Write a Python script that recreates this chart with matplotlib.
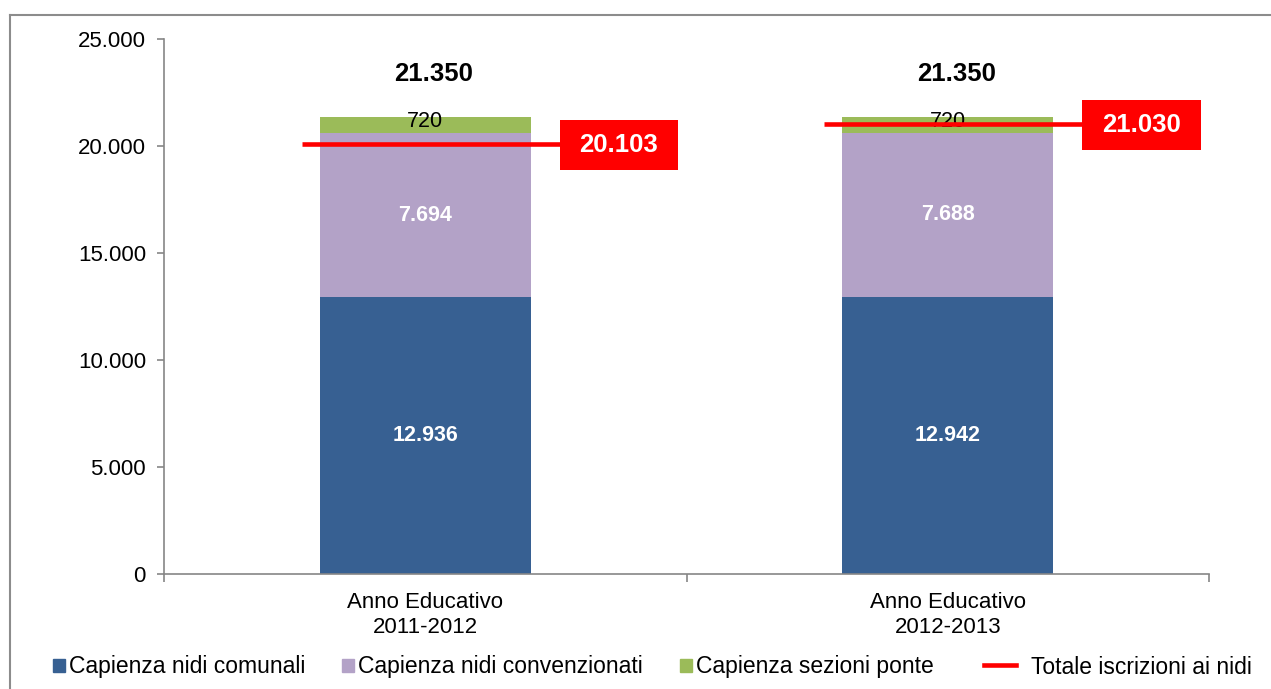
import matplotlib
matplotlib.use("Agg")
import matplotlib.pyplot as plt
import matplotlib.patches as mpatches
from matplotlib.lines import Line2D

plt.rcParams['font.family'] = ['Liberation Sans', 'DejaVu Sans']

categories = ["Anno Educativo\n2011-2012", "Anno Educativo\n2012-2013"]
comunali = [12936, 12942]
convenzionati = [7694, 7688]
ponte = [720, 720]
totali_capienza = [21350, 21350]
iscrizioni = [20103, 21030]
series_names = ["Capienza nidi comunali", "Capienza nidi convenzionati",
                "Capienza sezioni ponte", "Totale iscrizioni ai nidi"]
yticks = [0, 5000, 10000, 15000, 20000, 25000]

C_BLUE = "#376092"
C_PURPLE = "#B3A2C7"
C_GREEN = "#9BBB59"
C_RED = "#FF0000"
C_AXIS = "#868686"


def fmt(v):
    return f"{v:,}".replace(",", ".")


W, H = 1271, 689
fig = plt.figure(figsize=(W / 100, H / 100), dpi=100)
ax = fig.add_axes([164 / W, 1 - 574 / H, (1209 - 164) / W, (574 - 39.3) / H])

x = list(range(len(categories)))
bw = 0.403
ax.bar(x, comunali, bw, color=C_BLUE, zorder=2)
ax.bar(x, convenzionati, bw, bottom=comunali, color=C_PURPLE, zorder=2)
bottom3 = [a + b for a, b in zip(comunali, convenzionati)]
ax.bar(x, ponte, bw, bottom=bottom3, color=C_GREEN, zorder=2)

for i in x:
    # segment labels
    ax.text(i, comunali[i] / 2, fmt(comunali[i]), ha='center', va='center',
            color='white', fontweight='bold', fontsize=15.5, zorder=5)
    ax.text(i, comunali[i] + convenzionati[i] / 2, fmt(convenzionati[i]),
            ha='center', va='center', color='white', fontweight='bold',
            fontsize=15.5, zorder=5)
    ax.annotate(fmt(ponte[i]), xy=(i, bottom3[i] + ponte[i] / 2),
                xytext=(0, 2.5), textcoords='offset points',
                ha='center', va='center', color='black', fontsize=15.5, zorder=3)
    # totals
    ax.annotate(fmt(totali_capienza[i]), xy=(i, totali_capienza[i]),
                xytext=(6, 31), textcoords='offset points',
                ha='center', va='center', color='black', fontweight='bold',
                fontsize=18.5, zorder=5)
    # red line
    ax.plot([i - 0.236, i + 0.26], [iscrizioni[i], iscrizioni[i]],
            color=C_RED, lw=3.3, solid_capstyle='butt', zorder=4)
    # red box label
    bh = 50 / 21.39 * 1000
    ax.add_patch(mpatches.Rectangle((i + 0.257, iscrizioni[i] - bh / 2 - 60),
                                    0.227, bh, facecolor=C_RED,
                                    edgecolor='none', zorder=5))
    ax.text(i + 0.3705, iscrizioni[i] - 60, fmt(iscrizioni[i]), ha='center',
            va='center', color='white', fontweight='bold', fontsize=18.5,
            zorder=6)

ax.set_xlim(-0.5, len(categories) - 0.5)
ax.set_ylim(0, 25000)
ax.set_yticks(yticks)
ax.set_yticklabels([fmt(v) for v in yticks], fontsize=16)
ax.set_xticks([-0.5, 0.5, 1.5])
ax.set_xticklabels([])
ax.set_xticks(x, minor=True)
ax.set_xticklabels(categories, minor=True, fontsize=16, linespacing=1.25)
ax.tick_params(axis='x', which='minor', length=0, pad=13)
ax.tick_params(axis='x', which='major', length=6, color=C_AXIS, width=1.2)
ax.tick_params(axis='y', length=5, color=C_AXIS, width=1.2, pad=8)
for s in ['top', 'right']:
    ax.spines[s].set_visible(False)
for s in ['left', 'bottom']:
    ax.spines[s].set_color(C_AXIS)
    ax.spines[s].set_linewidth(1.2)

# legend: bars
LFS = 16.5
leg_y = 1 - 667 / H
patch_handles = [mpatches.Patch(color=C_BLUE), mpatches.Patch(color=C_PURPLE),
                 mpatches.Patch(color=C_GREEN)]
leg1 = fig.legend(patch_handles, series_names[:3], loc='center left', ncol=3,
                  bbox_to_anchor=(53 / W, leg_y), frameon=False,
                  fontsize=LFS, handlelength=0.52, handleheight=0.52,
                  handletextpad=0.17, columnspacing=1.62, borderaxespad=0,
                  borderpad=0)
# legend: line
line_handle = [Line2D([], [], color=C_RED, lw=3.3)]
leg2 = fig.legend(line_handle, series_names[3:], loc='center left',
                  bbox_to_anchor=(984 / W, leg_y), frameon=False,
                  fontsize=LFS, handlelength=1.4, handletextpad=0.65,
                  borderaxespad=0, borderpad=0)

# outer frame (partial, as in the reference crop)
fig.add_artist(Line2D([10 / W, 10 / W], [0, 1 - 15 / H], color="#8c8c8c",
                      lw=1.5, transform=fig.transFigure))
fig.add_artist(Line2D([10 / W, 1], [1 - 15 / H, 1 - 15 / H], color="#8c8c8c",
                      lw=1.5, transform=fig.transFigure))

fig.savefig("out.png", dpi=100, facecolor='white')
